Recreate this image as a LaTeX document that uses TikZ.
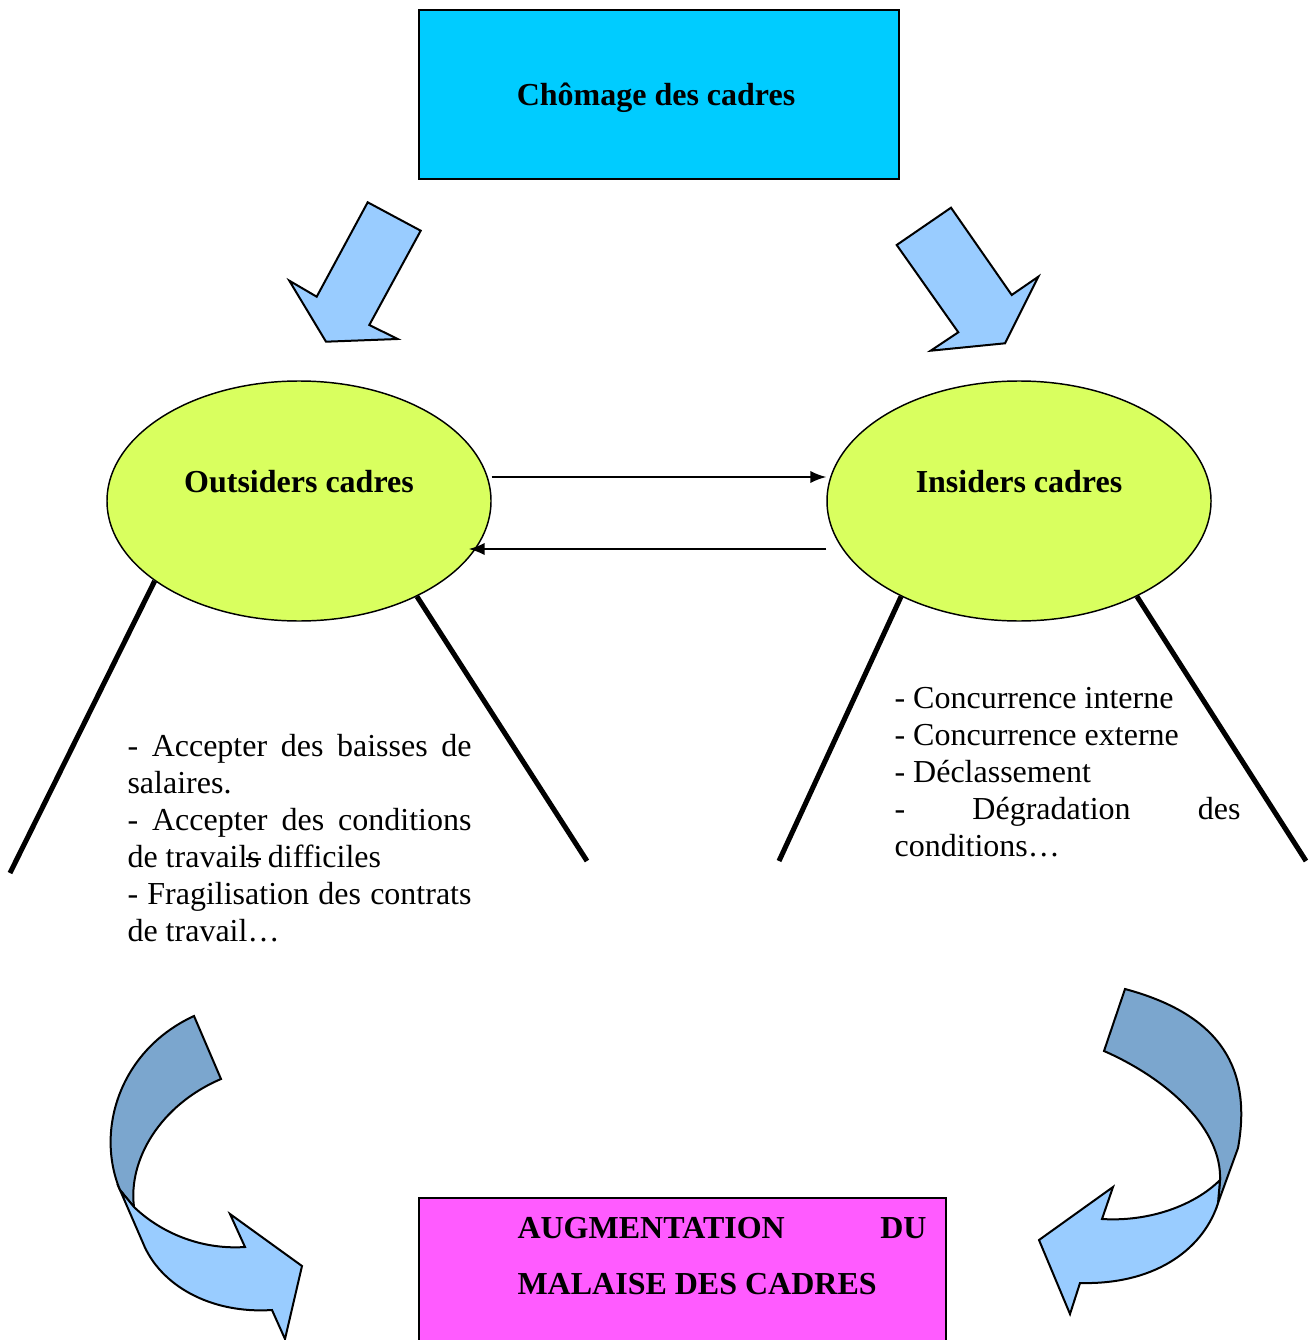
\documentclass[tikz,border=0pt]{standalone}
\usepackage{fontspec}
\setmainfont{Liberation Serif}
\usetikzlibrary{shapes.geometric, arrows.meta}
\setlength{\parindent}{0pt}
\hyphenpenalty=10000
\exhyphenpenalty=10000
\newcommand{\pxu}{0.375pt}
\newcommand{\bodysize}{\fontsize{12pt}{13.875pt}\selectfont}
\newcommand{\strk}[1]{\setbox0=\hbox{#1}\rlap{\kern-0.5pt\rule[0.25em]{\dimexpr\wd0+1pt\relax}{0.8pt}}\box0\relax}
\definecolor{titlecyan}{HTML}{00CCFF}
\definecolor{malaisepink}{HTML}{FF5BFF}
\definecolor{cadrelime}{HTML}{D9FF5F}
\definecolor{flowblue}{HTML}{99CCFF}
\definecolor{flowdark}{HTML}{7BA6CE}

\begin{document}
\begin{tikzpicture}[x=\pxu, y=-\pxu,
    titlebox/.style={draw, line width=0.75pt, inner sep=0pt, font=\bodysize\bfseries},
    cadre/.style={ellipse, draw, line width=0.55pt, fill=cadrelime, inner sep=0pt,
        minimum width=384*\pxu, minimum height=240*\pxu},
    cadrelabel/.style={font=\bodysize\bfseries, yshift=19*\pxu},
    cadretext/.style={font=\bodysize, inner sep=0pt, align=justify, anchor=north west},
    blockarrow/.style={draw, line width=0.75pt, fill=flowblue, line join=miter},
    branch/.style={line width=1.9pt},
    link/.style={line width=0.6pt, ->, >={Latex[length=6pt, width=4.6pt]}}]
    \useasboundingbox (0,0) rectangle (1313,1340);

    \node [titlebox, fill=titlecyan, minimum width=480*\pxu, minimum height=169*\pxu,
        label={[font=\bodysize\bfseries, xshift=-3*\pxu, yshift=-3*\pxu]center:Chômage des cadres}] (chomage) at (659,94.5) {};
    \node [titlebox, fill=malaisepink, minimum width=527*\pxu, minimum height=170*\pxu] (malaise) at (682.5,1283) {};
    \node [font=\fontsize{12pt}{21pt}\selectfont\bfseries, inner sep=0pt, align=justify, anchor=north west, text width=409*\pxu] (malaisetext) at (517,1217) {AUGMENTATION DU\linebreak MALAISE DES CADRES};

    % fleches du chomage
    \filldraw [blockarrow] (367.7,202.3) -- (420.7,230.7) -- (369.3,325) -- (397.7,339) -- (326,341.7) -- (289.3,280.7) -- (316.7,296.7) -- cycle;
    \filldraw [blockarrow] (951,207.7) -- (1011.7,295) -- (1038.3,276.7) -- (1005,343.3) -- (930.7,350.7) -- (958.3,332.3) -- (896.7,245) -- cycle;

    \node [cadre, label={[cadrelabel]center:Outsiders cadres}] (outsiders) at (299,501) {};
    \node [cadre, label={[cadrelabel]center:Insiders cadres}] (insiders) at (1019,501) {};

    \draw [link] ([yshift=24*\pxu]outsiders.east) -- ([yshift=24*\pxu]insiders.west);
    \draw [link] ([yshift=-48*\pxu]insiders.west) -- ([yshift=-48*\pxu, xshift=-23*\pxu]outsiders.east);

    \coordinate (outleft) at (10,873);
    \coordinate (outright) at (587,861);
    \coordinate (inleft) at (779,861);
    \coordinate (inright) at (1306,861);
    \draw [branch] (outsiders.209) -- (outleft);
    \draw [branch] (outsiders.-39) -- (outright);
    \draw [branch] (insiders.219) -- (inleft);
    \draw [branch] (insiders.-39) -- (inright);

    \node [cadretext, text width=344*\pxu] (outtext) at (127,734) {- Accepter des baisses de\linebreak salaires.\par - Accepter des conditions\linebreak de travail\strk{s} difficiles\par - Fragilisation des contrats\linebreak de travail…};
    \node [cadretext, text width=346*\pxu] (intext) at (894,687) {- Concurrence interne\par - Concurrence externe\par - Déclassement\par - Dégradation des\linebreak conditions…};

    % fleches courbes vers le malaise
    \filldraw [blockarrow, fill=flowdark] (194,1016) -- (221,1079) .. controls (160,1105) and (128,1160) .. (134,1207) -- (120,1190) .. controls (95,1130) and (120,1050) .. (194,1016) -- cycle;
    \filldraw [blockarrow] (120,1190) -- (143,1243) .. controls (160,1285) and (210,1314) .. (272,1310) -- (285,1339) -- (302,1266) -- (230,1214) -- (245,1247) .. controls (200,1250) and (160,1232) .. (134,1207) -- cycle;
    \filldraw [blockarrow, fill=flowdark] (1125,989) -- (1104,1051) .. controls (1170,1080) and (1222,1130) .. (1220,1180) -- (1218,1203) -- (1238,1148) .. controls (1252,1070) and (1222,1015) .. (1125,989) -- cycle;
    \filldraw [blockarrow] (1220,1180) -- (1218,1203) .. controls (1205,1245) and (1160,1285) .. (1080,1283) -- (1070,1314) -- (1039,1240) -- (1113,1187) -- (1102,1219) .. controls (1150,1222) and (1195,1205) .. (1220,1180) -- cycle;
\end{tikzpicture}
\end{document}
